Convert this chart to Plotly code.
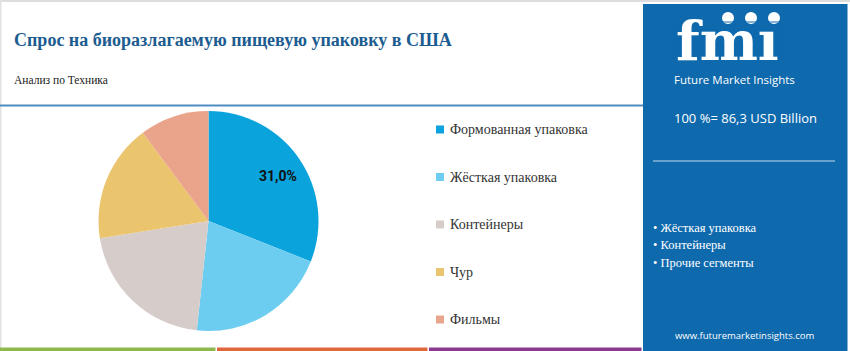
import math
import plotly.graph_objects as go

W, H = 850, 351

title = "Спрос на биоразлагаемую пищевую упаковку в США"
subtitle = "Анализ по Техника"
categories = ["Формованная упаковка", "Жёсткая упаковка", "Контейнеры", "Чур", "Фильмы"]
shares = [31.0, 20.7, 20.8, 17.3, 10.2]
colors = ["#0AA3DC", "#6CCDF0", "#D6CCCA", "#EBC56D", "#EBA48C"]
slice_labels = ["31,0%", "", "", "", ""]
total_text = "100 %= 86,3 USD Billion"
bullets = ["Жёсткая упаковка", "Контейнеры", "Прочие сегменты"]
url = "www.futuremarketinsights.com"
bar_colors = ["#8DB84F", "#E0663C", "#8A3A8E"]

PANEL = "#0E69AD"

def px(x):
    return x / W

def py(y):
    return 1 - y / H

# pie geometry (pixels)
PCX, PCY, PR = 208.5, 221.0, 110.0

fig = go.Figure()
fig.add_trace(go.Pie(
    labels=categories, values=shares, textinfo="none",
    marker=dict(colors=colors, line=dict(width=0)),
    sort=False, direction="clockwise", rotation=0,
    domain=dict(x=[px(PCX - PR), px(PCX + PR)], y=[py(PCY + PR), py(PCY - PR)]),
    showlegend=False, hoverinfo="label+percent",
))

shapes = []
annotations = []

# slice labels placed along each slice's bisector
total = sum(shares)
start = 0.0
for v, lab in zip(shares, slice_labels):
    ang = (start + v / 2) / total * 2 * math.pi
    start += v
    if not lab:
        continue
    r = 0.76 * PR
    annotations.append(dict(text="<b>" + lab + "</b>", xref="paper", yref="paper",
                            x=px(PCX + r * math.sin(ang)), y=py(PCY - r * math.cos(ang) + 1.5),
                            xanchor="center", yanchor="middle", showarrow=False,
                            font=dict(family="Roboto", size=14, color="#111")))

# borders
shapes.append(dict(type="rect", xref="paper", yref="paper", x0=0, x1=1, y0=py(2), y1=1,
                   fillcolor="#DDDDDD", line=dict(width=0), layer="below"))
shapes.append(dict(type="rect", xref="paper", yref="paper", x0=0, x1=px(1.5), y0=0, y1=1,
                   fillcolor="#E2E2E2", line=dict(width=0), layer="below"))
# header rule
shapes.append(dict(type="line", xref="paper", yref="paper", x0=0, x1=px(643), y0=py(105.5), y1=py(105.5),
                   line=dict(color="#4E8CC2", width=2)))
# bottom colour bars
edges = [0, 217, 429, 643]
for i, c in enumerate(bar_colors):
    shapes.append(dict(type="rect", xref="paper", yref="paper", x0=px(edges[i]), x1=px(edges[i + 1] - 1.5),
                       y0=0, y1=py(347.5), fillcolor=c, line=dict(width=0)))
# right panel
shapes.append(dict(type="rect", xref="paper", yref="paper", x0=px(643), x1=px(847.5), y0=0, y1=py(4),
                   fillcolor=PANEL, line=dict(width=0), layer="below"))
shapes.append(dict(type="line", xref="paper", yref="paper", x0=px(653), x1=px(835), y0=py(161), y1=py(161),
                   line=dict(color="rgba(255,255,255,0.75)", width=1.2)))

# logo
for cx in [728, 751, 774]:
    shapes.append(dict(type="circle", xref="paper", yref="paper", x0=px(cx - 6), x1=px(cx + 6),
                       y0=py(24), y1=py(12), fillcolor="white", line=dict(width=0)))
annotations.append(dict(text="<b>fmı</b>", xref="paper", yref="paper", x=px(727), y=py(40.5),
                        xanchor="center", yanchor="middle", showarrow=False,
                        font=dict(family="DejaVu Serif", size=55, color="white", weight=900)))
for k in range(10):
    yy = 22 + k * 4
    shapes.append(dict(type="line", xref="paper", yref="paper", x0=px(670), x1=px(790),
                       y0=py(yy), y1=py(yy), line=dict(color=PANEL, width=1.1), layer="above"))
annotations.append(dict(text="Future Market Insights", xref="paper", yref="paper", x=px(734), y=py(79.5),
                        xanchor="center", yanchor="middle", showarrow=False,
                        font=dict(family="Open Sans", size=11.5, color="white")))
annotations.append(dict(text=total_text, xref="paper", yref="paper", x=px(745), y=py(118),
                        xanchor="center", yanchor="middle", showarrow=False,
                        font=dict(family="Open Sans", size=13, color="white")))
for i, b in enumerate(bullets):
    annotations.append(dict(text="• " + b, xref="paper", yref="paper", x=px(651), y=py(228 + i * 17.3),
                            xanchor="left", yanchor="middle", showarrow=False,
                            font=dict(family="Liberation Serif", size=12.5, color="white")))
annotations.append(dict(text=url, xref="paper", yref="paper", x=px(745), y=py(335),
                        xanchor="center", yanchor="middle", showarrow=False,
                        font=dict(family="Open Sans", size=9.5, color="white")))

# titles
annotations.append(dict(text="<b>" + title + "</b>", xref="paper", yref="paper", x=px(12), y=py(40),
                        xanchor="left", yanchor="middle", showarrow=False,
                        font=dict(family="Liberation Serif", size=18, color="#1C5C90")))
annotations.append(dict(text=subtitle, xref="paper", yref="paper", x=px(12), y=py(80),
                        xanchor="left", yanchor="middle", showarrow=False,
                        font=dict(family="Liberation Serif", size=11.5, color="#222")))

# legend
for i, (cat, col) in enumerate(zip(categories, colors)):
    yc = 129.5 + i * 47.5
    shapes.append(dict(type="rect", xref="paper", yref="paper", x0=px(436), x1=px(444),
                       y0=py(yc + 4), y1=py(yc - 4), fillcolor=col, line=dict(width=0)))
    annotations.append(dict(text=cat, xref="paper", yref="paper", x=px(448), y=py(yc),
                            xanchor="left", yanchor="middle", showarrow=False,
                            font=dict(family="Liberation Serif", size=14, color="#333")))

fig.update_layout(
    width=W, height=H, margin=dict(l=0, r=0, t=0, b=0),
    paper_bgcolor="white", plot_bgcolor="white",
    shapes=shapes, annotations=annotations, showlegend=False,
)
fig.write_html("out.html")
